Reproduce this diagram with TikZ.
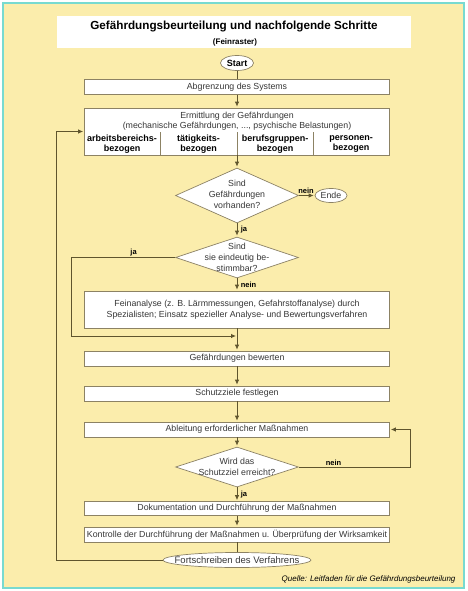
\documentclass[tikz,border=0pt]{standalone}
\usepackage{fontspec}
\setmainfont{Liberation Sans}
\usetikzlibrary{arrows.meta,shapes.geometric}
\definecolor{paper}{RGB}{251,237,172}
\definecolor{framecol}{RGB}{120,218,208}
\definecolor{linecol}{RGB}{95,85,45}
\definecolor{boxcol}{RGB}{140,130,100}
\definecolor{textcol}{RGB}{55,55,55}

\begin{document}
\begin{tikzpicture}[x=1pt, y=-1pt, font=\fontsize{8.8}{10}\selectfont, text=textcol, stepbox/.style={rectangle, draw=boxcol, line width=0.7pt, fill=white, minimum width=305pt, minimum height=15pt, inner sep=0pt, align=center}, terminal/.style={ellipse, draw=boxcol, line width=0.7pt, fill=white, minimum height=14pt, inner sep=0pt}, decision/.style={diamond, draw=boxcol, line width=0.7pt, fill=white, minimum width=123pt, inner sep=0pt}, dtext/.style={align=center, font=\fontsize{8.8}{11.2}\selectfont, text=textcol}, answer/.style={font=\fontsize{7.5}{8}\selectfont\bfseries, text=black, inner sep=1.5pt}, line/.style={draw=linecol, line width=0.8pt}, arrow/.style={line, -{Latex[length=5pt,width=4.5pt]}, shorten >=1pt}]
\useasboundingbox (0,0) rectangle (467,591);
\draw[framecol, line width=1.5pt, fill=paper] (3,3) rectangle (464,588);
\node[rectangle, fill=white, minimum width=354pt, minimum height=32pt] (titlebox) at (234,32) {};
\node[font=\fontsize{11.7}{13}\selectfont\bfseries, text=black] (title) at (234,27) {Gefährdungsbeurteilung und nachfolgende Schritte};
\node[font=\fontsize{8}{9}\selectfont\bfseries, text=black] (subtitle) at (235,42) {(Feinraster)};
\node[terminal, minimum width=33pt, minimum height=15pt, font=\fontsize{9}{10}\selectfont\bfseries, text=black] (start) at (237,63) {Start};
\node[stepbox] (abgr) at (237,87) {Abgrenzung des Systems};
\node[stepbox, minimum height=47pt] (ermit) at (237,131.5) {};
\node[align=center] (ermtext) at (237,121.5) {Ermittlung der Gefährdungen\\(mechanische Gefährdungen, ..., psychische Belastungen)};
\foreach \n/\x/\t in {1/122/arbeitsbereichs-,2/198.5/tätigkeits-,3/275/berufsgruppen-,4/351/personen-}
  \node[align=center, font=\fontsize{9}{10}\selectfont\bfseries, text=black, inner sep=0pt] (col\n) at (\x,144) {\t\\bezogen};
\foreach \x in {160,237,313} \draw[boxcol, line width=0.7pt] (\x,132) -- (\x,155);
\node[decision, minimum height=55pt, label={[dtext, yshift=1pt]center:{Sind\\Gefährdungen\\vorhanden?}}] (dq1) at (237,195.5) {};
\node[terminal, minimum width=32pt] (ende) at (331,195.5) {Ende};
\node[decision, minimum height=41pt, label={[dtext]center:{Sind\\sie eindeutig be-\\stimmbar?}}] (dq2) at (237,257.5) {};
\node[stepbox, minimum height=37pt, font=\fontsize{8.8}{11}\selectfont] (fein) at (237,309.5) {Feinanalyse (z. B. Lärmmessungen, Gefahrstoffanalyse) durch\\Spezialisten; Einsatz spezieller Analyse- und Bewertungsverfahren};
\node[stepbox] (bew) at (237,358.5) {Gefährdungen bewerten};
\node[stepbox] (schutz) at (237,393.5) {Schutzziele festlegen};
\node[stepbox] (ableit) at (237,429.5) {Ableitung erforderlicher Maßnahmen};
\node[decision, minimum height=40pt, label={[dtext]center:{Wird das\\Schutzziel erreicht?}}] (dq3) at (237,467) {};
\node[stepbox, minimum height=14pt] (doku) at (237,508.5) {Dokumentation und Durchführung der Maßnahmen};
\node[stepbox] (kontr) at (237,534.5) {Kontrolle der Durchführung der Maßnahmen u. Überprüfung der Wirksamkeit};
\node[terminal, minimum width=148pt, minimum height=15pt, label={[font=\fontsize{9.5}{10}\selectfont, text=textcol]center:Fortschreiben des Verfahrens}] (fort) at (237,560) {};
\node[anchor=east, font=\fontsize{8}{9}\selectfont\itshape, text=black] (quelle) at (459,579) {Quelle: Leitfaden für die Gefährdungsbeurteilung};
\draw[line] (start) -- (abgr);
\draw[arrow] (abgr) -- (ermit);
\draw[arrow] (ermit) -- (dq1);
\draw[arrow] (dq1) -- node[answer, above, pos=0.45] {nein} (ende);
\draw[arrow] (dq1) -- node[answer, right, xshift=2pt] {ja} (dq2);
\draw[arrow] (dq2) -- node[answer, right, xshift=2pt] {nein} (fein);
\draw[arrow] (dq2.west) -- node[answer, above, pos=0.4] {ja} ++(-104,0) |- (237,336);
\draw[arrow] (fein) -- (bew);
\draw[arrow] (bew) -- (schutz);
\draw[arrow] (schutz) -- (ableit);
\draw[arrow] (ableit) -- (dq3);
\draw[arrow] (dq3.east) -- node[answer, above, pos=0.31] {nein} ++(112,0) |- (ableit.east);
\draw[arrow] (dq3) -- node[answer, right, xshift=2pt] {ja} (doku);
\draw[arrow] (doku) -- (kontr);
\draw[line] (kontr) -- (fort);
\draw[arrow] (fort.west) -- ++(-106,0) |- (ermit.west);
\end{tikzpicture}
\end{document}
